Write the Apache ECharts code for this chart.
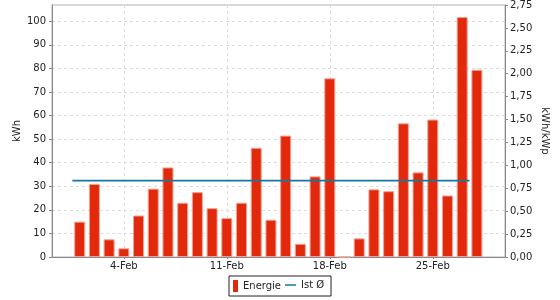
<!DOCTYPE html>
<html>
<head>
<meta charset="utf-8">
<script src="https://cdn.jsdelivr.net/npm/echarts@6/dist/echarts.min.js"></script>
<style>
html,body{margin:0;padding:0;background:#fff;}
#c{width:560px;height:300px;}
</style>
</head>
<body>
<div id="c"></div>
<script>
// Day of February for each bar
const days = [1,2,3,4,5,6,7,8,9,10,11,12,13,14,15,16,17,18,19,20,21,22,23,24,25,26,27,28];
// Energie (kWh)
const energie = [15,31,7.5,3.7,17.6,29,38,23,27.5,20.7,16.5,23,46.3,15.8,51.5,5.6,34.2,75.8,0,7.9,28.7,27.9,56.7,35.9,58.3,26.1,101.8,79.4];
// Ist Ø (kWh/kWp) - start and end day of the average line
const avgDays = [0.5, 27.5];
const avgValue = 0.834;
// tick values and labels
const xTickDays = [4, 11, 18, 25];
const xTickLabels = ['4-Feb', '11-Feb', '18-Feb', '25-Feb'];
const leftTicks = [0,10,20,30,40,50,60,70,80,90,100];
const rightTicks = [0,0.25,0.5,0.75,1,1.25,1.5,1.75,2,2.25,2.5,2.75];

const font = 'DejaVu Sans';
const txt = {fontFamily: font, fontSize: 10, color: '#222'};

const chart = echarts.init(document.getElementById('c'), null, {renderer: 'canvas'});
chart.setOption({
  animation: false,
  backgroundColor: '#fff',
  textStyle: {fontFamily: font},
  grid: {left: 52, right: 55, top: 4, bottom: 43, show: true, borderColor: '#b4b4b4', borderWidth: 1, backgroundColor: 'transparent'},
  legend: [
    {
      data: [{name: 'Energie', icon: 'rect', itemStyle: {borderWidth: 0}}],
      left: 229, top: 276,
      itemWidth: 5, itemHeight: 12, itemGap: 5,
      padding: [4, 50, 4, 4],
      borderColor: '#222', borderWidth: 1,
      textStyle: txt
    },
    {
      data: [{name: 'Ist Ø', icon: 'path://M0,0h22v3h-22z'}],
      left: 285, top: 280,
      itemWidth: 11, itemHeight: 12,
      padding: 0,
      textStyle: txt
    }
  ],
  xAxis: {
    type: 'value',
    min: -0.883, max: 29.91,
    axisLine: {show: true, onZero: false, lineStyle: {color: '#888'}},
    axisTick: {show: true, length: 2, customValues: xTickDays, lineStyle: {color: '#888'}},
    axisLabel: {customValues: xTickDays, margin: 4, ...txt,
      formatter: v => xTickLabels[xTickDays.indexOf(Math.round(v))] || ''},
    splitLine: {show: true, lineStyle: {color: '#dcdcdc', type: [3, 3]}}
  },
  yAxis: [
    {
      type: 'value', min: 0, max: 106.9,
      name: 'kWh', nameLocation: 'middle', nameRotate: 90, nameGap: 30,
      nameMoveOverlap: false,
      nameTextStyle: txt,
      axisLine: {show: true, onZero: false, lineStyle: {color: '#888'}},
      axisTick: {show: true, length: 3, customValues: leftTicks, lineStyle: {color: '#888'}},
      axisLabel: {customValues: leftTicks, margin: 6, ...txt},
      splitLine: {show: true, lineStyle: {color: '#dcdcdc', type: [3, 3]}}
    },
    {
      type: 'value', min: 0, max: 2.75,
      position: 'right',
      name: 'kWh/kWp', nameLocation: 'middle', nameRotate: -90, nameGap: 35,
      nameMoveOverlap: false,
      nameTextStyle: txt,
      axisLine: {show: true, onZero: false, lineStyle: {color: '#888'}},
      axisTick: {show: true, length: 3, customValues: rightTicks, lineStyle: {color: '#888'}},
      axisLabel: {customValues: rightTicks, margin: 5, ...txt,
        formatter: v => v.toFixed(2).replace('.', ',')},
      splitLine: {show: false}
    }
  ],
  series: [
    {
      name: 'Energie', type: 'bar', yAxisIndex: 0,
      barWidth: 11,
      data: days.map((d, i) => [d, energie[i]]),
      itemStyle: {color: '#e2290c', borderColor: '#f3a192', borderWidth: 1}
    },
    {
      name: 'Ist Ø', type: 'line', yAxisIndex: 1,
      symbol: 'none', showSymbol: false,
      data: avgDays.map(d => [d, avgValue]),
      lineStyle: {color: '#15789e', width: 1.6},
      itemStyle: {color: '#15789e'}
    }
  ]
});
</script>
</body>
</html>
